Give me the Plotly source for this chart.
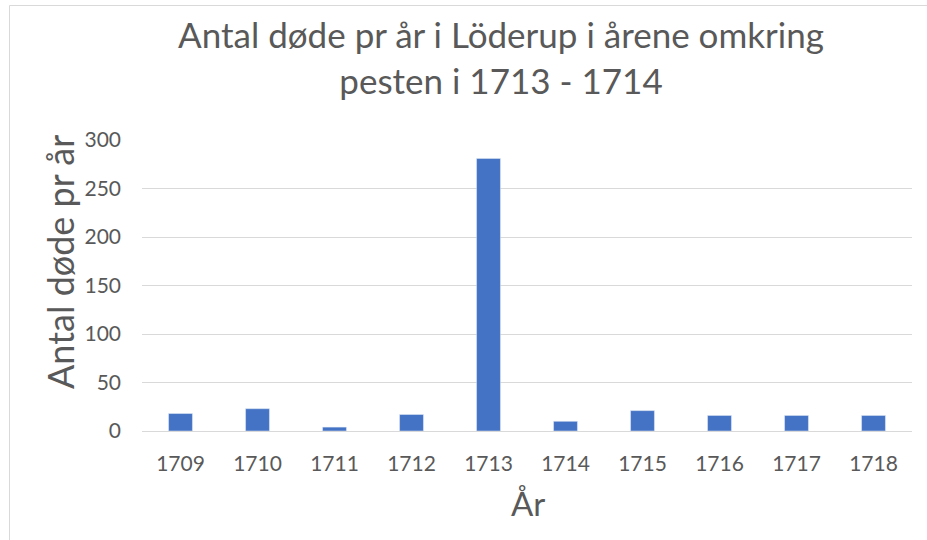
import plotly.graph_objects as go

years = ["1709", "1710", "1711", "1712", "1713", "1714", "1715", "1716", "1717", "1718"]
deaths = [18, 23, 4, 17, 281, 10, 21, 16, 16, 16]

title_text = "Antal døde pr år i Löderup i årene omkring<br>pesten i 1713 - 1714"
y_title = "Antal døde pr år"
x_title = "År"

W, H = 927, 540
L, R, T, B = 142, 15, 140, 109
pw, ph = W - L - R, H - T - B

def px_to_paper_x(px):
    return (px - L) / pw

def py_to_paper_y(py):
    return (H - B - py) / ph

FONT = "Lato"
GREY = "#595959"

fig = go.Figure(go.Bar(x=years, y=deaths, marker_color="#4472C4", width=0.31))

fig.update_layout(
    width=W, height=H,
    margin=dict(l=L, r=R, t=T, b=B),
    paper_bgcolor="white", plot_bgcolor="white",
    font=dict(family=FONT, color=GREY),
    title=dict(text=title_text, x=px_to_paper_x(501), xref="paper", xanchor="center",
               y=1 - 48 / H, yanchor="top",
               font=dict(size=35, color=GREY, family=FONT)),
    showlegend=False,
    bargap=0.69,
)
fig.update_yaxes(range=[0, 300], dtick=50, showgrid=True, gridcolor="#d9d9d9", gridwidth=1,
                 zeroline=False, showline=False, ticks="", tickfont=dict(size=21, color=GREY),
                 ticklabelstandoff=20)
fig.update_xaxes(showline=True, linecolor="#d9d9d9", linewidth=1, ticks="",
                 tickfont=dict(size=21, color=GREY), ticklabelstandoff=14)

fig.add_annotation(text=y_title, textangle=-90, xref="paper", yref="paper",
                   x=px_to_paper_x(60), y=py_to_paper_y(262), xanchor="center", yanchor="middle",
                   showarrow=False, font=dict(size=36, color=GREY, family=FONT))
fig.add_annotation(text=x_title, xref="paper", yref="paper",
                   x=px_to_paper_x(528), y=py_to_paper_y(503), xanchor="center", yanchor="middle",
                   showarrow=False, font=dict(size=33, color=GREY, family=FONT))

fig.add_shape(type="rect", xref="paper", yref="paper",
              x0=px_to_paper_x(9.5), x1=px_to_paper_x(960),
              y0=py_to_paper_y(580), y1=py_to_paper_y(5.5),
              line=dict(color="#d9d9d9", width=1), fillcolor="rgba(0,0,0,0)", layer="below")

fig.write_html("out.html", config={"displayModeBar": False},
               post_script="document.body.style.margin='0';")
